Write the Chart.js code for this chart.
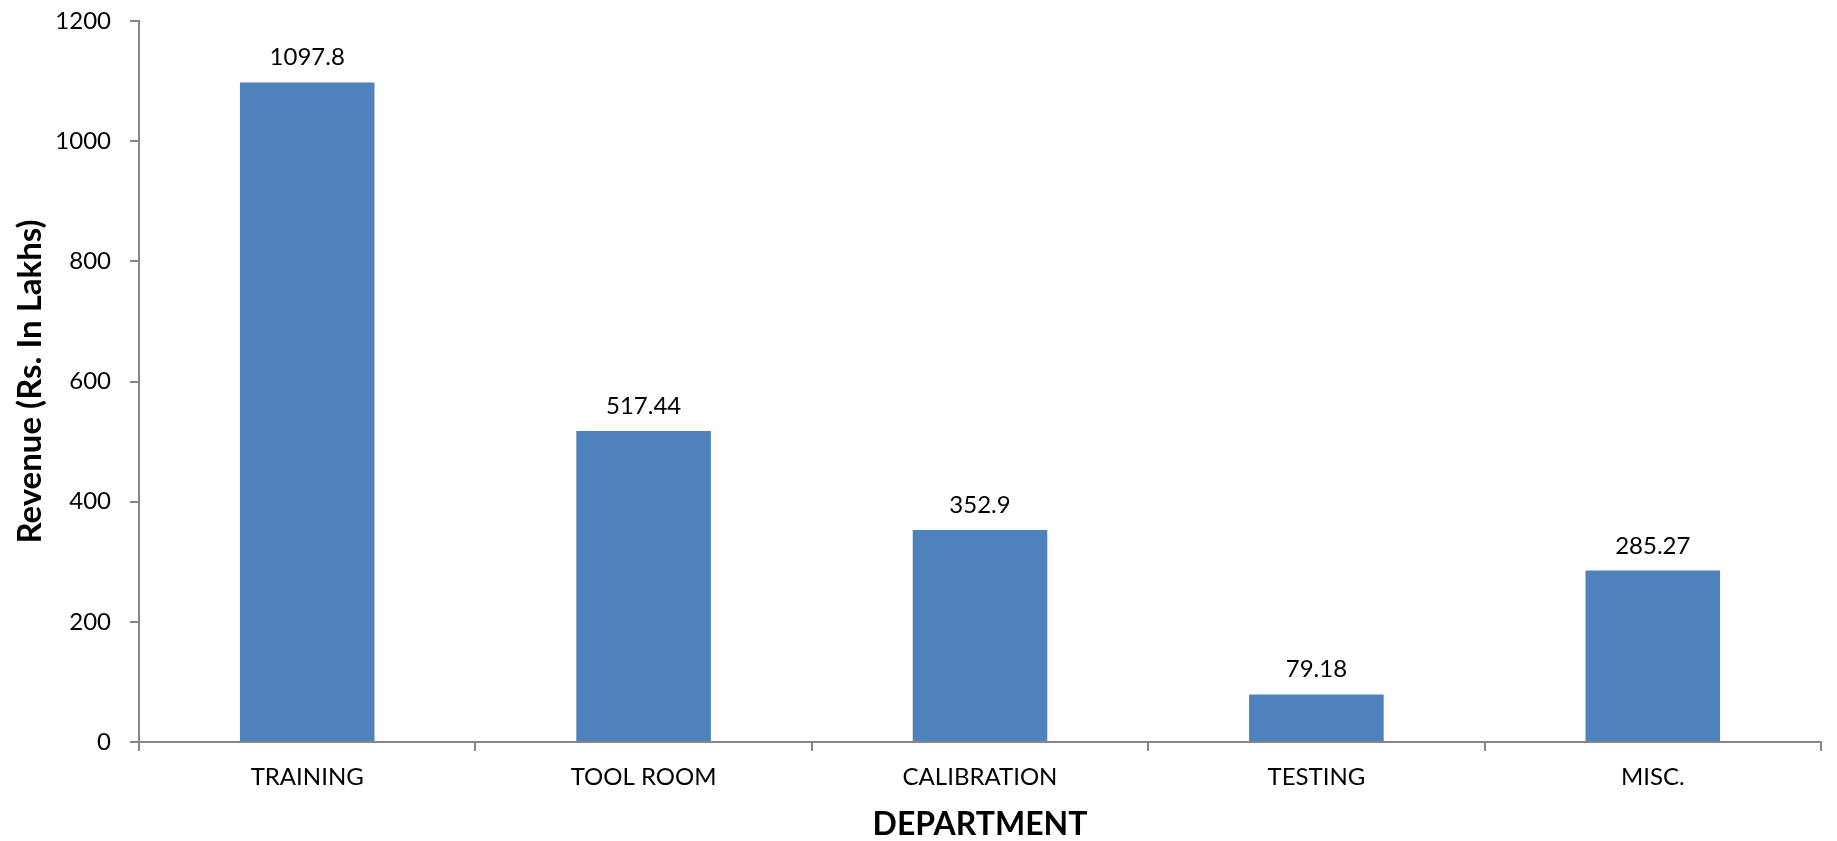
<!DOCTYPE html>
<html>
<head>
<meta charset="utf-8">
<style>
  html, body { margin: 0; padding: 0; background: #ffffff; }
  #wrap { width: 1837px; height: 841px; }
</style>
<script src="https://cdn.jsdelivr.net/npm/chart.js@4"></script>
</head>
<body>
<div id="wrap"><canvas id="chart" width="1837" height="841"></canvas></div>
<script>
// Departments and their revenue (Rs. in lakhs)
const departments = ['TRAINING', 'TOOL ROOM', 'CALIBRATION', 'TESTING', 'MISC.'];
const revenue = [1097.8, 517.44, 352.9, 79.18, 285.27];
const valueLabels = ['1097.8', '517.44', '352.9', '79.18', '285.27'];
const yTicks = [0, 200, 400, 600, 800, 1000, 1200];

const FONT = 'Lato, Carlito, "Open Sans", sans-serif';
const AXIS_GREY = '#878787';

// Writes each bar's value just above the bar
const barValueLabels = {
  id: 'barValueLabels',
  afterDatasetsDraw(chart) {
    const ctx = chart.ctx;
    const meta = chart.getDatasetMeta(0);
    ctx.save();
    ctx.font = '24px ' + FONT;
    ctx.fillStyle = '#000000';
    ctx.textAlign = 'center';
    ctx.textBaseline = 'alphabetic';
    meta.data.forEach((bar, i) => {
      ctx.fillText(valueLabels[i], bar.x, bar.y - 17);
    });
    ctx.restore();
  }
};

new Chart(document.getElementById('chart'), {
  type: 'bar',
  data: {
    labels: departments,
    datasets: [{
      data: revenue,
      backgroundColor: '#4F81BD',
      borderWidth: 0,
      categoryPercentage: 1.0,
      barPercentage: 0.4
    }]
  },
  options: {
    responsive: false,
    animation: false,
    devicePixelRatio: 1,
    layout: { padding: { top: 21, right: 16, bottom: 0, left: 0 } },
    plugins: {
      legend: { display: false },
      tooltip: { enabled: false }
    },
    scales: {
      x: {
        offset: true,
        grid: {
          display: true,
          offset: true,
          drawOnChartArea: false,
          drawTicks: true,
          tickLength: 9,
          color: AXIS_GREY,
          lineWidth: 2
        },
        border: { display: true, color: AXIS_GREY, width: 2 },
        ticks: {
          color: '#000000',
          font: { family: FONT, size: 24 },
          padding: 12,
          maxRotation: 0
        },
        title: {
          display: true,
          text: 'DEPARTMENT',
          color: '#000000',
          font: { family: FONT, size: 32, weight: 'bold', lineHeight: 1.0 },
          padding: { top: 0, bottom: 0 }
        },
        afterFit(scale) {
          scale.height = 841 - 742;
          scale.paddingLeft = 0;
          scale.paddingRight = 0;
        }
      },
      y: {
        min: 0,
        max: 1200,
        afterBuildTicks(scale) {
          scale.ticks = yTicks.map(v => ({ value: v }));
        },
        grid: {
          display: true,
          drawOnChartArea: false,
          drawTicks: true,
          tickLength: 9,
          color: AXIS_GREY,
          lineWidth: 2
        },
        border: { display: true, color: AXIS_GREY, width: 2 },
        ticks: {
          color: '#000000',
          font: { family: FONT, size: 24 },
          padding: 19,
          callback: (v) => String(v)
        },
        title: {
          display: true,
          text: 'Revenue (Rs. In Lakhs)',
          color: '#000000',
          font: { family: FONT, size: 33, weight: 'bold' },
          padding: { top: 11, bottom: 0 }
        },
        afterFit(scale) {
          scale.width = 139;
          scale.paddingTop = 0;
          scale.paddingBottom = 0;
        }
      }
    }
  },
  plugins: [barValueLabels]
});
</script>
</body>
</html>
